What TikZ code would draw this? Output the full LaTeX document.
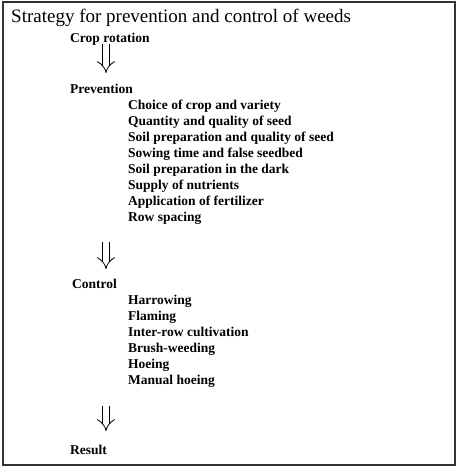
\documentclass[tikz,border=0pt]{standalone}
\usepackage{fontspec}
\setmainfont{Liberation Serif}
\usetikzlibrary{arrows.meta, positioning}

\begin{document}
\begin{tikzpicture}[
    x=1pt, y=-1pt,
    node distance=16pt,
    every node/.style={inner sep=0pt, anchor=base west},
    heading/.style={font=\fontsize{13.5}{15}\selectfont\bfseries},
    entry/.style={font=\fontsize{13.5}{15}\selectfont\bfseries},
    dblarrow/.style={double, double distance=5.6pt, line width=0.8pt, -{Implies[length=7pt, width=15pt]}}
]
    \useasboundingbox (0,0) rectangle (460,471);
    \draw[line width=1.2pt, black!80] (3,2) rectangle (455,465);

    \node[font=\fontsize{19}{21}\selectfont] (title) at (11,23) {Strategy for prevention and control of weeds};

    % crop rotation and prevention
    \node[heading] (crop) at (70,42) {Crop rotation};
    \node[heading] (prev) at (70,93) {Prevention};
    \node[entry] (p1) at (128,109) {Choice of crop and variety};
    \node[entry, below=of p1.base west, anchor=base west] (p2) {Quantity and quality of seed};
    \node[entry, below=of p2.base west, anchor=base west] (p3) {Soil preparation and quality of seed};
    \node[entry, below=of p3.base west, anchor=base west] (p4) {Sowing time and false seedbed};
    \node[entry, below=of p4.base west, anchor=base west] (p5) {Soil preparation in the dark};
    \node[entry, below=of p5.base west, anchor=base west] (p6) {Supply of nutrients};
    \node[entry, below=of p6.base west, anchor=base west] (p7) {Application of fertilizer};
    \node[entry, below=of p7.base west, anchor=base west] (p8) {Row spacing};

    % control
    \node[heading] (ctrl) at (72,288) {Control};
    \node[entry] (c1) at (128,304) {Harrowing};
    \node[entry, below=of c1.base west, anchor=base west] (c2) {Flaming};
    \node[entry, below=of c2.base west, anchor=base west] (c3) {Inter-row cultivation};
    \node[entry, below=of c3.base west, anchor=base west] (c4) {Brush-weeding};
    \node[entry, below=of c4.base west, anchor=base west] (c5) {Hoeing};
    \node[entry, below=of c5.base west, anchor=base west] (c6) {Manual hoeing};

    \node[heading] (res) at (70,454) {Result};

    % arrows between the stages
    \coordinate (a1s) at (106,44);
    \coordinate (a1e) at (106,73);
    \coordinate (a2s) at (106,242);
    \coordinate (a2e) at (106,269);
    \coordinate (a3s) at (106,406);
    \coordinate (a3e) at (106,431);
    \draw[dblarrow] (a1s) -- (a1e);
    \draw[dblarrow] (a2s) -- (a2e);
    \draw[dblarrow] (a3s) -- (a3e);
\end{tikzpicture}
\end{document}
